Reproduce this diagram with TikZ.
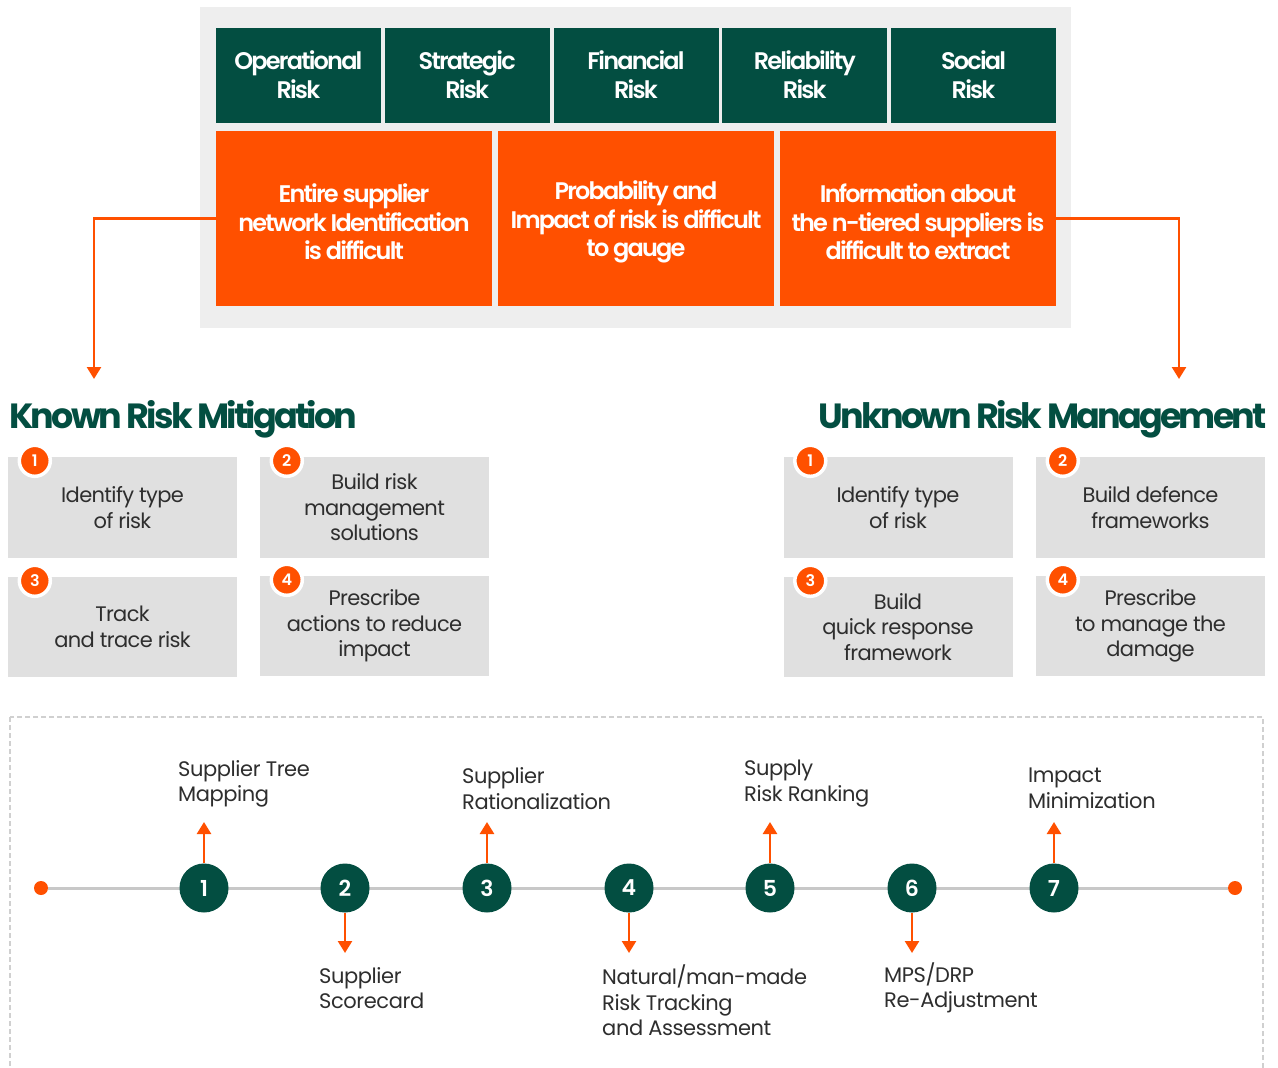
\documentclass[tikz,border=0pt]{standalone}
\usepackage{fontspec}
\setmainfont{Poppins}
\newfontfamily\boxfont{Poppins SemiBold}[LetterSpace=-7.5]
\newfontfamily\headfont{Poppins Bold}[LetterSpace=-8]
\newfontfamily\bodyfont{Poppins}[LetterSpace=-3]
\newfontfamily\labelfont{Poppins}[LetterSpace=-2]
\newfontfamily\numfont{Poppins SemiBold}
\usetikzlibrary{arrows.meta}
\definecolor{dgreen}{HTML}{034E41}
\definecolor{orng}{HTML}{FF5000}
\definecolor{panelgrey}{HTML}{EEEEEE}
\definecolor{boxgrey}{HTML}{E0E0E0}
\definecolor{txtdark}{HTML}{2E2E2E}
\definecolor{tlgrey}{HTML}{C8C8C8}
\definecolor{dashgrey}{HTML}{D0D0D0}
\tikzset{
  riskbox/.style={fill=dgreen, text=white, minimum width=165pt, minimum height=95pt, inner sep=0pt, align=center, font=\boxfont\fontsize{24}{29}\selectfont},
  issuebox/.style={fill=orng, minimum width=276pt, minimum height=175pt, inner sep=0pt},
  issuetext/.style={text=white, inner sep=0pt, align=center, font=\boxfont\fontsize{24}{28.5}\selectfont},
  heading/.style={text=dgreen, inner sep=0pt, font=\headfont\fontsize{35}{40}\selectfont},
  stepbox/.style={fill=boxgrey, text=txtdark, minimum width=229pt, minimum height=100pt, inner sep=0pt, align=center, font=\bodyfont\fontsize{21}{25.5}\selectfont},
  badge/.style={circle, fill=orng, draw=white, line width=3.5pt, minimum size=31pt, inner sep=0pt, text=white, font=\numfont\fontsize{16}{16}\selectfont},
  tlnode/.style={circle, fill=dgreen, minimum size=49pt, inner sep=0pt, text=white, font=\numfont\fontsize{22}{22}\selectfont},
  tllabel/.style={anchor=west, inner sep=0pt, align=left, text=txtdark, font=\labelfont\fontsize{21}{25.5}\selectfont},
  oarrow/.style={draw=orng, line width=2.5pt, -{Triangle[length=12pt,width=14pt]}},
  enddot/.style={circle, fill=orng, minimum size=14pt, inner sep=0pt}
}
\begin{document}
\begin{tikzpicture}[x=1pt,y=-1pt]
\useasboundingbox[fill=white] (0,0) rectangle (1278,1068);
% top panel
\fill[panelgrey] (200,7) rectangle (1071,328);
\node[riskbox] (r1) at (298.4,75) {Operational\\Risk};
\node[riskbox] (r2) at (467.2,75) {Strategic\\Risk};
\node[riskbox] (r3) at (636,75) {Financial\\Risk};
\node[riskbox] (r4) at (804.8,75) {Reliability\\Risk};
\node[riskbox] (r5) at (973.6,75) {Social\\Risk};
\node[issuebox] (o1) at (354,218.5) {};
\node[issuebox] (o2) at (636,218.5) {};
\node[issuebox] (o3) at (918,218.5) {};
\node[issuetext] (o1t) at ([yshift=-3.5]o1.center) {Entire supplier\\network Identification\\is difficult};
\node[issuetext] (o2t) at ([yshift=-3.5]o2.center) {Probability and\\Impact of risk is difficult\\to gauge};
\node[issuetext] (o3t) at ([yshift=-3.5]o3.center) {Information about\\the n-tiered suppliers is\\difficult to extract};
\coordinate (kl) at (94,379);
\coordinate (ur) at (1179,379);
\draw[oarrow] (o1.west) -| (kl);
\draw[oarrow] (o3.east) -| (ur);
% headings
\node[heading, anchor=base west] (hk) at (9,428) {Known Risk Mitigation};
\node[heading, anchor=base east] (hu) at (1267,428) {Unknown Risk Management};
% step boxes
\node[stepbox, minimum height=101pt] (k1) at (122.5,507.5) {Identify type\\of risk};
\node[stepbox, minimum height=101pt] (k2) at (374.5,507.5) {Build risk\\management\\solutions};
\node[stepbox] (k3) at (122.5,627) {Track\\and trace risk};
\node[stepbox] (k4) at (374.5,626) {Prescribe\\actions to reduce\\impact};
\node[stepbox, minimum height=101pt] (u1) at (898,507.5) {Identify type\\of risk};
\node[stepbox, minimum height=101pt] (u2) at (1150.5,507.5) {Build defence\\frameworks};
\node[stepbox] (u3) at (898,627) {Build\\quick response\\framework};
\node[stepbox] (u4) at (1150.5,626) {Prescribe\\to manage the\\damage};
\foreach \b/\n in {k1/1,k2/2,k3/3,k4/4,u1/1,u2/2,u3/3,u4/4}{
  \node[badge] (bd\b) at ([shift={(27,4)}]\b.north west) {\n};
}
% timeline
\draw[dashgrey, line width=1.5pt, dash pattern=on 5pt off 3pt] (10,717) rectangle (1263,1090);
\node[enddot] (ds) at (41,888) {};
\node[enddot] (de) at (1235,888) {};
\draw[tlgrey, line width=3pt] (ds) -- (de);
\foreach \i/\x in {1/204,2/345,3/487,4/629,5/770,6/912,7/1054}{
  \node[tlnode] (t\i) at (\x,888) {\i};
}
\foreach \i/\x in {1/204,3/487,5/770,7/1054}{
  \coordinate (a\i) at (\x,822);
  \draw[oarrow] (t\i.north) -- (a\i);
}
\foreach \i/\x in {2/345,4/629,6/912}{
  \coordinate (a\i) at (\x,953);
  \draw[oarrow] (t\i.south) -- (a\i);
}
\node[tllabel] (l1) at (178,784) {Supplier Tree\\Mapping};
\node[tllabel] (l3) at (462,788.5) {Supplier\\Rationalization};
\node[tllabel] (l5) at (744,783.5) {Supply\\Risk Ranking};
\node[tllabel] (l7) at (1028,788.5) {Impact\\Minimization};
\node[tllabel] (l2) at (319,988) {Supplier\\Scorecard};
\node[tllabel] (l4) at (602,1000.5) {Natural/man-made\\Risk Tracking\\and Assessment};
\node[tllabel] (l6) at (884,988) {MPS/DRP\\Re-Adjustment};
\end{tikzpicture}
\end{document}
